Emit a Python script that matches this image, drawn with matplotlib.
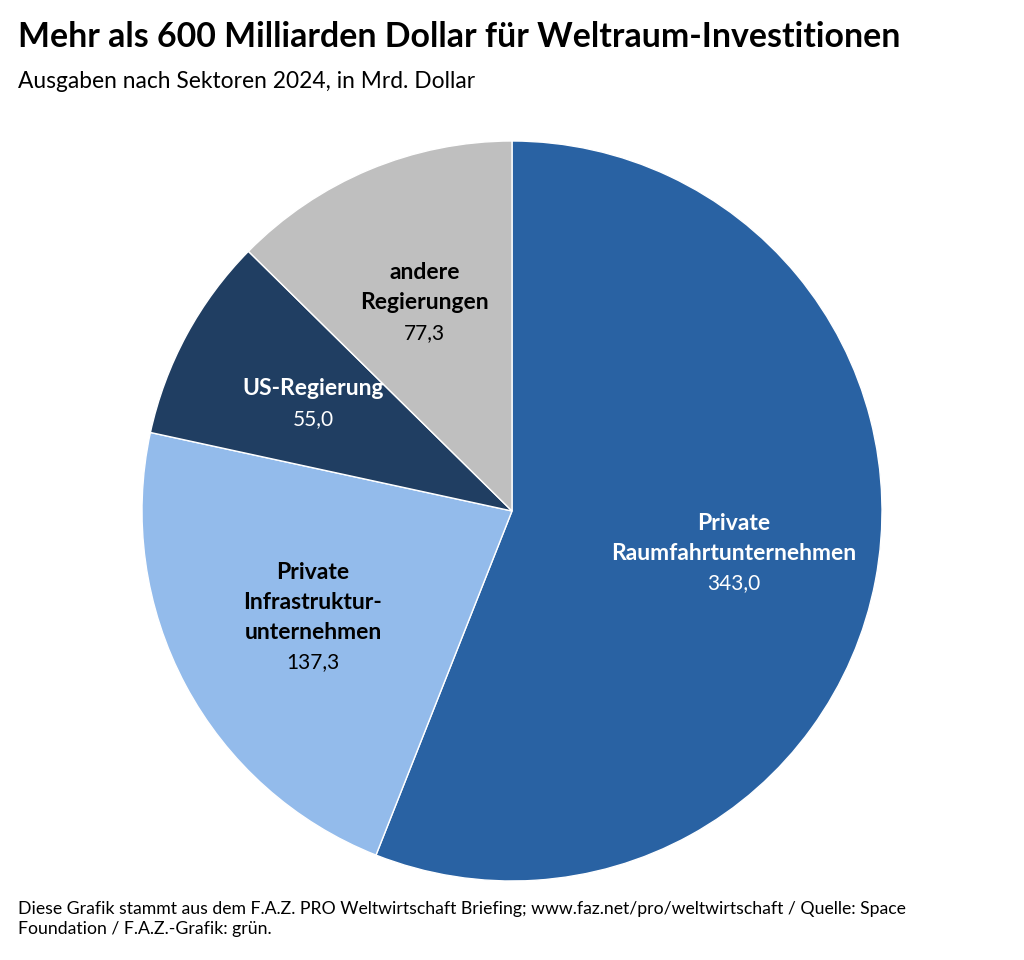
import numpy as np
import matplotlib
matplotlib.use('Agg')
from matplotlib import pyplot as plt

#### D A T A ####
sectors = ['Private\nRaumfahrtunternehmen', 'Private\nInfrastruktur-\nunternehmen',
           'US-Regierung', 'andere\nRegierungen']
values = [343.0, 137.3, 55.0, 77.3]
value_labels = ['343,0', '137,3', '55,0', '77,3']
colors = ['#2962a3', '#93bbeb', '#203e62', '#bfbfbf']
text_colors = ['white', 'black', 'white', 'black']

title = 'Mehr als 600 Milliarden Dollar für Weltraum-Investitionen'
subtitle = 'Ausgaben nach Sektoren 2024, in Mrd. Dollar'
footer = ('Diese Grafik stammt aus dem F.A.Z. PRO Weltwirtschaft Briefing; www.faz.net/pro/weltwirtschaft / Quelle: Space\n'
          'Foundation / F.A.Z.-Grafik: grün.')

plt.rcParams['font.family'] = ['Lato', 'DejaVu Sans']

fig = plt.figure(figsize=(10.24, 9.6), dpi=100)
ax = fig.add_axes([142 / 1024, 1 - 881 / 960, 740 / 1024, 740 / 960])

wedges, _ = ax.pie(values, colors=colors, startangle=90, counterclock=False,
                   wedgeprops=dict(edgecolor='white', linewidth=1))
ax.set_xlim(-1, 1)
ax.set_ylim(-1, 1)
ax.set_aspect('equal')
ax.axis('off')

# Beschriftungen in den Segmenten
line_h = 30 / 370  # Zeilenabstand in Daten-Einheiten
for w, name, val, tc in zip(wedges, sectors, value_labels, text_colors):
    mid = np.deg2rad((w.theta1 + w.theta2) / 2)
    cx, cy = 0.61 * np.cos(mid), 0.61 * np.sin(mid)
    lines = name.split('\n')
    n = len(lines) + 1
    top = cy + (n - 1) / 2 * line_h
    for i, ln in enumerate(lines):
        ax.text(cx, top - i * line_h, ln, ha='center', va='center',
                fontsize=16.5, fontweight='bold', color=tc)
    ax.text(cx, top - len(lines) * line_h, val, ha='center', va='center',
            fontsize=15, color=tc)

fig.text(18 / 1024, 1 - 37 / 960, title, fontsize=24.4, fontweight='bold', va='center', ha='left')
fig.text(18 / 1024, 1 - 82 / 960, subtitle, fontsize=16.4, va='center', ha='left')
fig.text(18 / 1024, 1 - 919 / 960, footer, fontsize=12.7, va='center', ha='left', linespacing=1.25)

plt.savefig('out.png', dpi=100)
